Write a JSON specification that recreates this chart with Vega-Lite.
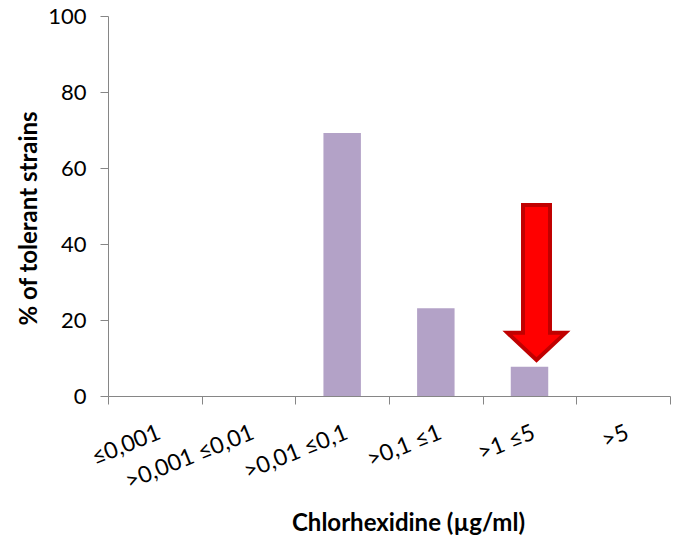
{
  "$schema": "https://vega.github.io/schema/vega-lite/v6.json",
  "autosize": "none",
  "padding": {"left": 108, "top": 16, "right": 8, "bottom": 153},
  "width": 562,
  "height": 380,
  "background": "white",
  "config": {
    "view": {"stroke": null},
    "font": "Lato",
    "axis": {
      "domainColor": "#868686",
      "tickColor": "#868686",
      "grid": false,
      "labelColor": "black",
      "titleColor": "black"
    }
  },
  "datasets": {
    "bars": [
      {"category": "≤0,001", "value": 0},
      {"category": ">0,001 ≤0,01", "value": 0},
      {"category": ">0,01 ≤0,1", "value": 69.2},
      {"category": ">0,1 ≤1", "value": 23.1},
      {"category": ">1 ≤5", "value": 7.7},
      {"category": ">5", "value": 0}
    ],
    "arrow": [
      {"category": ">1 ≤5", "value": 29.87}
    ]
  },
  "layer": [
    {
      "data": {"name": "bars"},
      "mark": {"type": "bar", "color": "#b3a2c7", "width": {"band": 0.4}},
      "encoding": {
        "x": {
          "field": "category",
          "type": "nominal",
          "sort": null,
          "scale": {"paddingInner": 0, "paddingOuter": 0},
          "axis": {
            "title": "Chlorhexidine (µg/ml)",
            "titleFontSize": 24,
            "titleFontWeight": "bold",
            "titleX": 300,
            "titleY": 127,
            "titleBaseline": "middle",
            "labelAngle": -22,
            "labelAlign": "right",
            "labelBaseline": "top",
            "labelFontSize": 23,
            "labelPadding": 17,
            "tickBand": "extent",
            "tickSize": 8
          }
        },
        "y": {
          "field": "value",
          "type": "quantitative",
          "scale": {"domain": [0, 100]},
          "axis": {
            "title": "% of tolerant strains",
            "titleFontSize": 24,
            "titleFontWeight": "bold",
            "titleX": -79,
            "titleY": 202,
            "titleAngle": -90,
            "titleBaseline": "middle",
            "titleAlign": "center",
            "values": [0, 20, 40, 60, 80, 100],
            "labelFontSize": 22,
            "labelPadding": 14,
            "tickSize": 8
          }
        }
      }
    },
    {
      "data": {"name": "arrow"},
      "mark": {
        "type": "point",
        "shape": "M-0.174,-1 L0.174,-1 L0.174,0.65 L0.374,0.65 L0,1 L-0.374,0.65 L-0.174,0.65 Z",
        "filled": true,
        "fill": "#ff0000",
        "stroke": "#c00000",
        "strokeWidth": 4,
        "opacity": 1,
        "size": 24025,
        "xOffset": 7
      },
      "encoding": {
        "x": {"field": "category", "type": "nominal", "sort": null},
        "y": {"field": "value", "type": "quantitative"}
      }
    }
  ]
}
